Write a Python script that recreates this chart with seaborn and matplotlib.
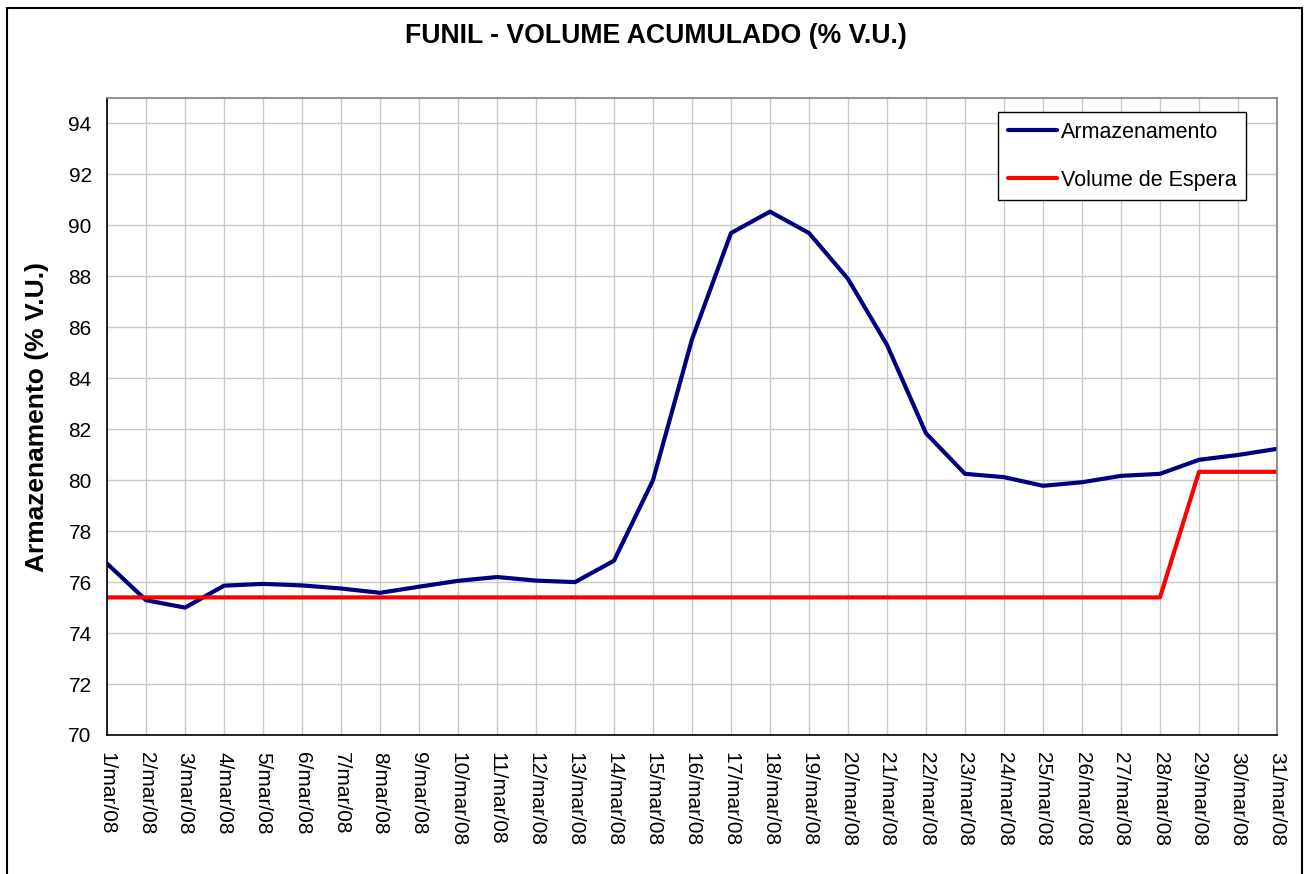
import seaborn as sns
import numpy as np
import matplotlib.pyplot as plt
import pandas as pd
from matplotlib.patches import Rectangle

# data
days = list(range(1, 32))
day_labels = [f'{d}/mar/08' for d in days]
armazenamento = [76.73, 75.29, 75.0, 75.86, 75.93, 75.87, 75.75, 75.58, 75.82, 76.05,
                 76.2, 76.06, 76.0, 76.84, 80.0, 85.53, 89.7, 90.54, 89.7, 87.9,
                 85.31, 81.84, 80.25, 80.12, 79.78, 79.92, 80.17, 80.25, 80.8, 80.99, 81.23]
volume_espera = [75.4] * 28 + [80.33] * 3
y_ticks = list(range(70, 95, 2))

df = pd.DataFrame({'dia': days, 'Armazenamento': armazenamento, 'Volume de Espera': volume_espera})
df_long = df.melt(id_vars='dia', var_name='serie', value_name='valor')

sns.set_style('white')
plt.rcParams['font.family'] = ['Liberation Sans', 'DejaVu Sans']
plt.rcParams['text.color'] = 'black'
plt.rcParams['axes.labelcolor'] = 'black'
plt.rcParams['xtick.color'] = 'black'
plt.rcParams['ytick.color'] = 'black'

fig = plt.figure(figsize=(13.11, 8.74), dpi=100)
ax = fig.add_axes([107 / 1311, 1 - 735 / 874, 1170 / 1311, 637 / 874])

sns.lineplot(data=df_long, x='dia', y='valor', hue='serie',
             palette={'Armazenamento': '#000080', 'Volume de Espera': '#FF0000'},
             linewidth=3, ax=ax)

ax.set_xlim(1, 31)
ax.set_ylim(70, 95)
ax.set_yticks(y_ticks)
ax.set_xticks(days)
ax.set_xticklabels(day_labels, rotation=270, fontsize=15)
ax.tick_params(axis='y', labelsize=15, direction='out', length=7, width=1, colors='black', pad=4)
ax.tick_params(axis='x', direction='out', length=6, width=1, colors='black', pad=6)
ax.grid(True, color='#c8c8c8', linewidth=1)
ax.set_axisbelow(True)

for side in ['top', 'right']:
    ax.spines[side].set_color('#808080')
    ax.spines[side].set_linewidth(1.2)
for side in ['left', 'bottom']:
    ax.spines[side].set_color('black')
    ax.spines[side].set_linewidth(1.2)

ax.set_xlabel('')
ax.set_ylabel('Armazenamento (% V.U.)', fontsize=19, fontweight='bold', labelpad=14, color='black')

leg = ax.legend(loc='upper right', bbox_to_anchor=(0.9735, 0.978), borderaxespad=0,
                fontsize=15.5, handlelength=2.3, labelspacing=1.25, handletextpad=0.15,
                borderpad=0.45, fancybox=False, framealpha=1, edgecolor='black', title=None)
leg.get_frame().set_linewidth(1)
for t in leg.get_texts():
    t.set_color('black')

fig.text(0.5, 1 - 36 / 874, 'FUNIL - VOLUME ACUMULADO (% V.U.)', ha='center', va='center',
         fontsize=19.2, fontweight='bold', color='black')

fig.patches.append(Rectangle((7 / 1311, -0.02), 1295 / 1311, 1 - 8 / 874 + 0.02,
                             transform=fig.transFigure, fill=False, edgecolor='black', linewidth=1.5))

fig.savefig('out.png', dpi=100)
